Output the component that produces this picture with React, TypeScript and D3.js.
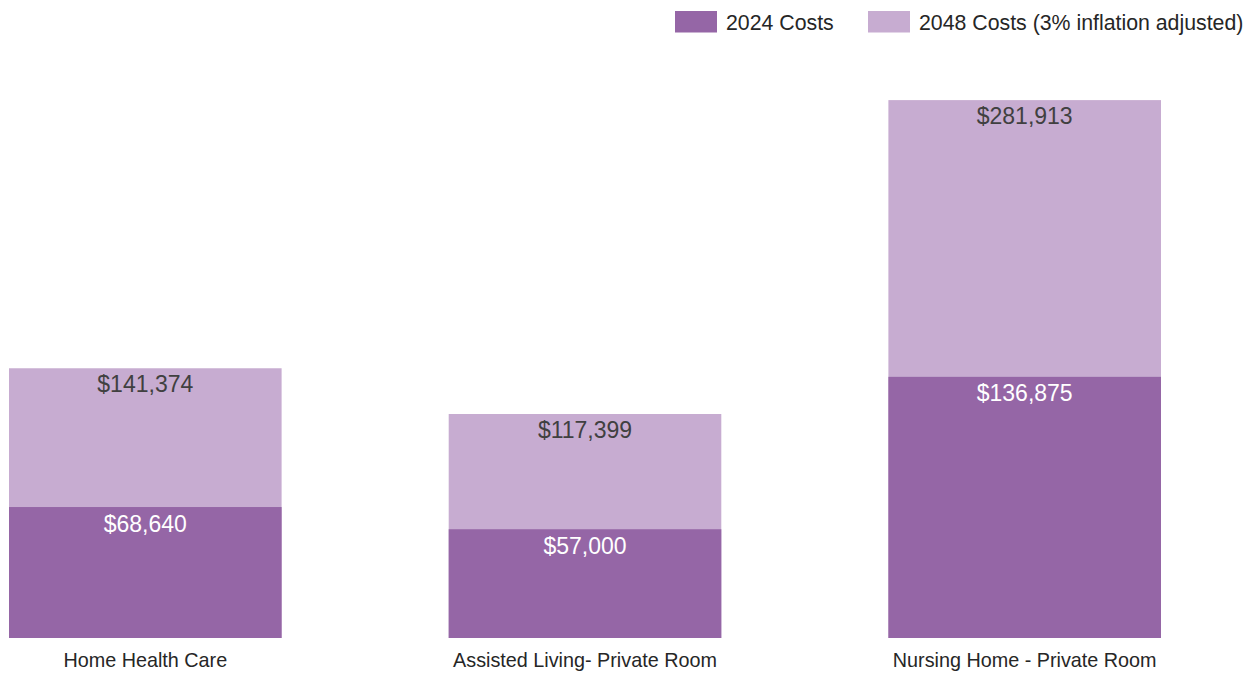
import React from "react";
import * as d3 from "d3";

const categories = ["Home Health Care", "Assisted Living- Private Room", "Nursing Home - Private Room"];
const costs2024 = [68640, 57000, 136875];
const costs2048 = [141374, 117399, 281913];
const seriesNames = ["2024 Costs", "2048 Costs (3% inflation adjusted)"];
const seriesColors = ["#9566A6", "#C7ACD1"];

const W = 1260;
const H = 673;
const FONT = "'Liberation Sans', Arial, Helvetica, sans-serif";

export default function App() {
  const x = d3.scaleBand<string>().domain(categories).range([9, 1161]).paddingInner(0.38).paddingOuter(0);
  const y = d3.scaleLinear().domain([0, 300000]).range([638, 65.6]);
  const fmt = (v: number) => "$" + d3.format(",")(v);
  const legendX = [675, 868];

  return (
    <svg width={W} height={H} style={{ position: "absolute", left: 0, top: 0, display: "block" }} fontFamily={FONT}>
      <rect x={0} y={0} width={W} height={H} fill="#ffffff" />
      {categories.map((c, i) => {
        const x0 = x(c)!;
        const bw = x.bandwidth();
        const cx = x0 + bw / 2;
        const yTop = y(costs2048[i]);
        const yMid = y(costs2024[i]);
        return (
          <g key={c}>
            <rect x={x0} y={yTop} width={bw} height={y(0) - yTop} fill={seriesColors[1]} />
            <rect x={x0} y={yMid} width={bw} height={y(0) - yMid} fill={seriesColors[0]} />
            <text x={cx} y={yTop + 24} textAnchor="middle" fontSize={23} fill="#404040">{fmt(costs2048[i])}</text>
            <text x={cx} y={yMid + 24.5} textAnchor="middle" fontSize={23} fill="#ffffff">{fmt(costs2024[i])}</text>
            <text x={cx} y={667} textAnchor="middle" fontSize={19.8} fill="#262626">{c}</text>
          </g>
        );
      })}
      {seriesNames.map((s, i) => (
        <g key={s} transform={`translate(${legendX[i]},0)`}>
          <rect x={0} y={11} width={42} height={21.5} fill={seriesColors[i]} />
          <text x={51} y={29.5} fontSize={21.3} fill="#262626">{s}</text>
        </g>
      ))}
    </svg>
  );
}
